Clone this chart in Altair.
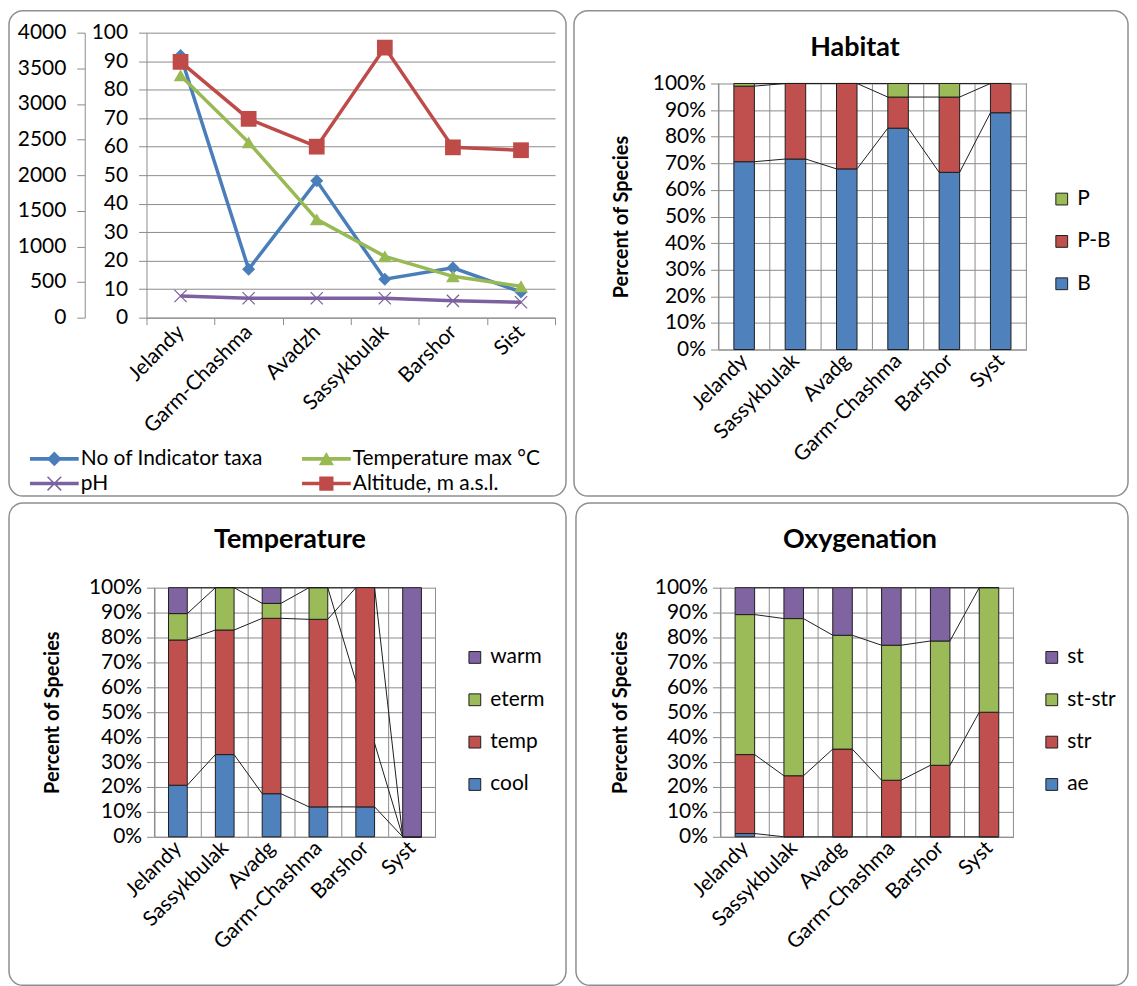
import altair as alt
import pandas as pd

FONT = "Lato"
GRID = "#8c8c8c"
FRAME = "#8f8f8f"
INK = "#1e1e1e"

# ---------------- Top-left: line chart ----------------
line_sites = ["Jelandy", "Garm-Chashma", "Avadzh", "Sassykbulak", "Barshor", "Sist"]
indicator_taxa = [92, 17, 48, 13.5, 17.5, 9]
temperature_max = [85, 61.5, 34.5, 21.5, 14.5, 11]
ph_values = [7.6, 6.8, 6.8, 6.8, 5.9, 5.4]
altitude_m = [3590, 2790, 2400, 3790, 2390, 2350]
line_series = ["No of Indicator taxa", "Temperature max °C", "pH", "Altitude, m a.s.l."]
line_colors = ["#4A7EBB", "#98B954", "#7D60A0", "#BE4B48"]
legend_order = ["No of Indicator taxa", "pH", "Temperature max °C", "Altitude, m a.s.l."]

# ---------------- Bar charts ----------------
bar_sites = ["Jelandy", "Sassykbulak", "Avadg", "Garm-Chashma", "Barshor", "Syst"]

habitat_series = ["B", "P-B", "P"]
habitat_B = [70.6, 71.6, 67.9, 83.2, 66.6, 89.0]
habitat_PB = [28.4, 28.4, 32.1, 11.7, 28.3, 11.0]
habitat_P = [1.0, 0.0, 0.0, 5.1, 5.1, 0.0]

temp_series = ["cool", "temp", "eterm", "warm"]
temp_cool = [20.7, 33.0, 17.3, 12.0, 12.0, 0.0]
temp_temp = [58.3, 50.0, 70.4, 75.3, 88.0, 0.0]
temp_eterm = [10.6, 17.0, 6.0, 12.7, None, 0.0]
temp_warm = [10.4, 0.0, 6.3, 0.0, None, 100.0]

oxy_series = ["ae", "str", "st-str", "st"]
oxy_ae = [1.3, 0.0, 0.0, 0.0, 0.0, 0.0]
oxy_str = [31.7, 24.5, 35.2, 22.7, 28.7, 50.0]
oxy_ststr = [56.2, 63.1, 45.7, 54.2, 49.9, 50.0]
oxy_st = [10.8, 12.4, 19.1, 23.1, 21.4, 0.0]

bar_colors = ["#4F81BD", "#C0504D", "#9BBB59", "#8064A2"]
BAR = 0.4  # bar width as fraction of category step


def label_expr(names):
    # tick values are category boundaries 0..n; label k (k>=1) names category k-1
    arr = "[" + ",".join("'" + s + "'" for s in names) + "]"
    return f"datum.value >= 1 ? {arr}[round(datum.value) - 1] : ''"


def frame_layer(x1, x2, y1, y2):
    return alt.Chart(pd.DataFrame({"f": [0]})).mark_rect(
        fillOpacity=0, stroke=FRAME, strokeWidth=1.5, cornerRadius=14
    ).encode(x=alt.value(x1), x2=alt.value(x2), y=alt.value(y1), y2=alt.value(y2))


def title_layer(text, x, y):
    return alt.Chart(pd.DataFrame({"t": [text]})).mark_text(
        font=FONT, fontSize=27, fontWeight="bold", align="center", baseline="middle",
        color="#000",
    ).encode(x=alt.value(x), y=alt.value(y), text="t:N")


# ---------------- Top-left panel ----------------
TL_W, TL_H = 410, 286
n_tl = len(line_sites)
x_scale_tl = alt.Scale(domain=[0, n_tl], nice=False, zero=False)
x_axis_tl = alt.Axis(
    values=list(range(n_tl + 1)), grid=False, ticks=True, tickSize=7, tickColor=GRID,
    domainColor=GRID, labelExpr=label_expr(line_sites), labelOffset=-TL_W / n_tl / 2,
    labelAngle=-45, labelAlign="right", labelBaseline="middle", labelPadding=4,
    labelFontSize=21, labelOverlap=False, labelFlush=False, title=None,
)
y_inner = alt.Y(
    "value:Q", scale=alt.Scale(domain=[0, 100], nice=False),
    axis=alt.Axis(values=list(range(0, 101, 10)), grid=True, gridColor=GRID, tickSize=8,
                  tickColor=GRID, domainColor=GRID, labelFontSize=21, labelPadding=11,
                  format="d", title=None),
)
y_outer = alt.Y(
    "value:Q", scale=alt.Scale(domain=[0, 4000], nice=False),
    axis=alt.Axis(values=list(range(0, 4001, 500)), grid=False, orient="left", offset=62,
                  tickSize=8, tickColor=GRID, domainColor=GRID, labelFontSize=21,
                  labelPadding=11, format="d", title=None),
)


def series_layers(values, color, y, **pt):
    base = alt.Chart(
        pd.DataFrame({"site": line_sites, "idx": list(range(n_tl)), "value": values})
    ).transform_calculate(xc="datum.idx + 0.5")
    enc = dict(x=alt.X("xc:Q", scale=x_scale_tl, axis=x_axis_tl), y=y)
    line = base.mark_line(color=color, strokeWidth=3.5).encode(**enc)
    pts = base.mark_point(color=color, opacity=1, **pt).encode(**enc)
    return [line, pts]


X_PATH = "M-1,-1L1,1M-1,1L1,-1"
layer_a = alt.layer(
    *series_layers(indicator_taxa, line_colors[0], y_inner, shape="diamond", filled=True, size=170),
    *series_layers(ph_values, line_colors[2], y_inner, shape=X_PATH, filled=False, size=150, strokeWidth=1.3),
    *series_layers(temperature_max, line_colors[1], y_inner, shape="triangle-up", filled=True, size=190),
)
layer_b = alt.layer(
    *series_layers(altitude_m, line_colors[3], y_outer, shape="square", filled=True, size=250),
)

bar_path = "M-2.33,-0.17L2.33,-0.17L2.33,0.17L-2.33,0.17Z"
legend_paths = [
    bar_path + "M0,-0.7L0.7,0L0,0.7L-0.7,0Z",
    bar_path + "M0,-0.65L0.72,0.6L-0.72,0.6Z",
    bar_path + "M-0.7,-0.6L-0.6,-0.7L0.7,0.6L0.6,0.7ZM0.6,-0.7L0.7,-0.6L-0.6,0.7L-0.7,0.6Z",
    bar_path + "M-0.68,-0.68L0.68,-0.68L0.68,0.68L-0.68,0.68Z",
]
tl_legend = alt.Legend(
    orient="none", legendX=-103, legendY=417, columns=2, values=legend_order, title=None,
    labelFontSize=21, labelLimit=400, symbolSize=441, symbolStrokeWidth=0, labelOffset=16,
    columnPadding=38, rowPadding=3, padding=0,
)
legend_layer = alt.Chart(pd.DataFrame({"series": line_series})).transform_filter("false").mark_point(
    filled=True, opacity=1, size=441
).encode(
    color=alt.Color("series:N", scale=alt.Scale(domain=line_series, range=line_colors), legend=tl_legend),
    shape=alt.Shape("series:N", scale=alt.Scale(domain=line_series, range=legend_paths), legend=tl_legend),
)

top_left = alt.layer(
    frame_layer(-138, 421, -22, 465), layer_a, layer_b, legend_layer
).resolve_scale(y="independent").properties(width=TL_W, height=TL_H)


# ---------------- Bar panels ----------------
def bar_panel(title, series, values, colors, W, H, lpad, top, frame_box, title_x, title_y,
              ytitle_x, legend_x, legend_y):
    n = len(bar_sites)
    rows = []
    for j, (s, vals) in enumerate(zip(series, values)):
        for i, (site, v) in enumerate(zip(bar_sites, vals)):
            if v is None:
                continue
            rows.append({"site": site, "idx": i, "series": s, "order": j, "value": v})
    df = pd.DataFrame(rows)
    stacked = alt.Chart(df).transform_stack(
        stack="value", groupby=["site"], as_=["y0", "y1"], offset="normalize",
        sort=[alt.SortField("order", order="ascending")],
    )
    # plot area occupies [lpad, lpad + W] x [top, top + H] of its view
    xscale = alt.Scale(domain=[0, n], nice=False, zero=False, range=[lpad, lpad + W])
    x_axis = alt.Axis(
        values=list(range(n + 1)), grid=False, ticks=False, domainColor=GRID,
        labelExpr=label_expr(bar_sites), labelOffset=-W / n / 2, labelAngle=-45,
        labelAlign="right", labelBaseline="middle", labelPadding=8, labelFontSize=21,
        labelOverlap=False, labelFlush=False, title=None,
    )
    yscale = alt.Scale(domain=[0, 1], nice=False, range=[top + H, top])
    y_axis_kw = dict(
        values=[k / 10 for k in range(11)], format=".0%", grid=True, gridColor=GRID,
        tickSize=8, tickColor=GRID, domainColor=GRID, labelFontSize=21, labelPadding=5,
        title="Percent of Species", titleFontSize=20, titleFontWeight="bold",
        titleX=ytitle_x, titleY=top + H / 2, titleAngle=270, titleAlign="center",
        titleBaseline="middle",
    )
    if lpad:
        y_axis_kw["offset"] = -lpad
    y_axis = alt.Axis(**y_axis_kw)
    left = 0.5 - BAR / 2
    right = 0.5 + BAR / 2
    legend = alt.Legend(
        orient="none", legendX=lpad + legend_x, legendY=top + legend_y,
        values=list(reversed(series)), title=None, labelFontSize=21, symbolType="square",
        symbolSize=140, symbolStrokeColor=INK, symbolStrokeWidth=1, labelOffset=5,
        rowPadding=20.5, padding=0,
    )
    vgrid = alt.Chart(pd.DataFrame({"b": list(range(n + 1))})).mark_rule(
        color=GRID, strokeWidth=1
    ).encode(
        x=alt.X("b:Q", scale=xscale, axis=x_axis),
        y=alt.YDatum(0, scale=yscale, axis=y_axis),
        y2=alt.Y2Datum(1),
    )
    bars = stacked.transform_calculate(
        xl=f"datum.idx + {left}", xr=f"datum.idx + {right}"
    ).mark_rect(stroke=INK, strokeWidth=1).encode(
        x=alt.X("xl:Q", scale=xscale, axis=x_axis), x2="xr:Q",
        y=alt.Y("y0:Q", scale=yscale, axis=y_axis), y2="y1:Q",
        color=alt.Color("series:N", scale=alt.Scale(domain=series, range=colors), legend=legend),
    )
    links = stacked.transform_window(
        next_top="lead(y1)", next_idx="lead(idx)", groupby=["series"],
        sort=[alt.SortField("idx", order="ascending")],
    ).transform_filter("isValid(datum.next_top)").transform_calculate(
        xr=f"datum.idx + {right}", nx=f"datum.next_idx + {left}"
    ).mark_rule(color=INK, strokeWidth=1).encode(
        x=alt.X("xr:Q", scale=xscale, axis=x_axis), x2="nx:Q",
        y=alt.Y("y1:Q", scale=yscale, axis=y_axis), y2="next_top:Q",
    )
    fx1, fx2, fy1, fy2 = frame_box
    return alt.layer(
        frame_layer(fx1 + lpad, fx2 + lpad, fy1 + top, fy2 + top),
        title_layer(title, lpad + title_x, top + title_y), vgrid, links, bars,
    ).properties(width=lpad + W, height=top + H)


top_right = bar_panel(
    "Habitat", habitat_series, [habitat_B, habitat_PB, habitat_P], bar_colors[:3],
    309, 267, 0, 51, (-145, 411, -73, 414), 137, -36, -97, 334, 105.5,
)
bottom_left = bar_panel(
    "Temperature", temp_series, [temp_cool, temp_temp, temp_eterm, temp_warm], bar_colors,
    282, 250, 8, 0, (-146, 413, -85, 399), 136, -48, -102, 311, 59.5,
)
bottom_right = bar_panel(
    "Oxygenation", oxy_series, [oxy_ae, oxy_str, oxy_ststr, oxy_st], bar_colors,
    294, 250, 0, 0, (-145, 409, -85, 399), 140, -48, -100, 322, 59.5,
)

row1 = alt.hconcat(top_left, top_right, spacing=6).resolve_scale(
    color="independent", shape="independent"
).resolve_legend(color="independent", shape="independent")
row2 = alt.hconcat(bottom_left, bottom_right, spacing=8).resolve_scale(
    color="independent", shape="independent"
).resolve_legend(color="independent", shape="independent")

chart = alt.vconcat(row1, row2, spacing=5).resolve_scale(
    color="independent", shape="independent"
).resolve_legend(color="independent", shape="independent").properties(padding=0).configure_view(
    strokeWidth=0
).configure_axis(
    labelFont=FONT, titleFont=FONT, labelColor="#000", titleColor="#000"
).configure_legend(
    labelFont=FONT, labelColor="#000"
)

chart.save("out.html", embed_options={"renderer": "svg", "actions": False})
